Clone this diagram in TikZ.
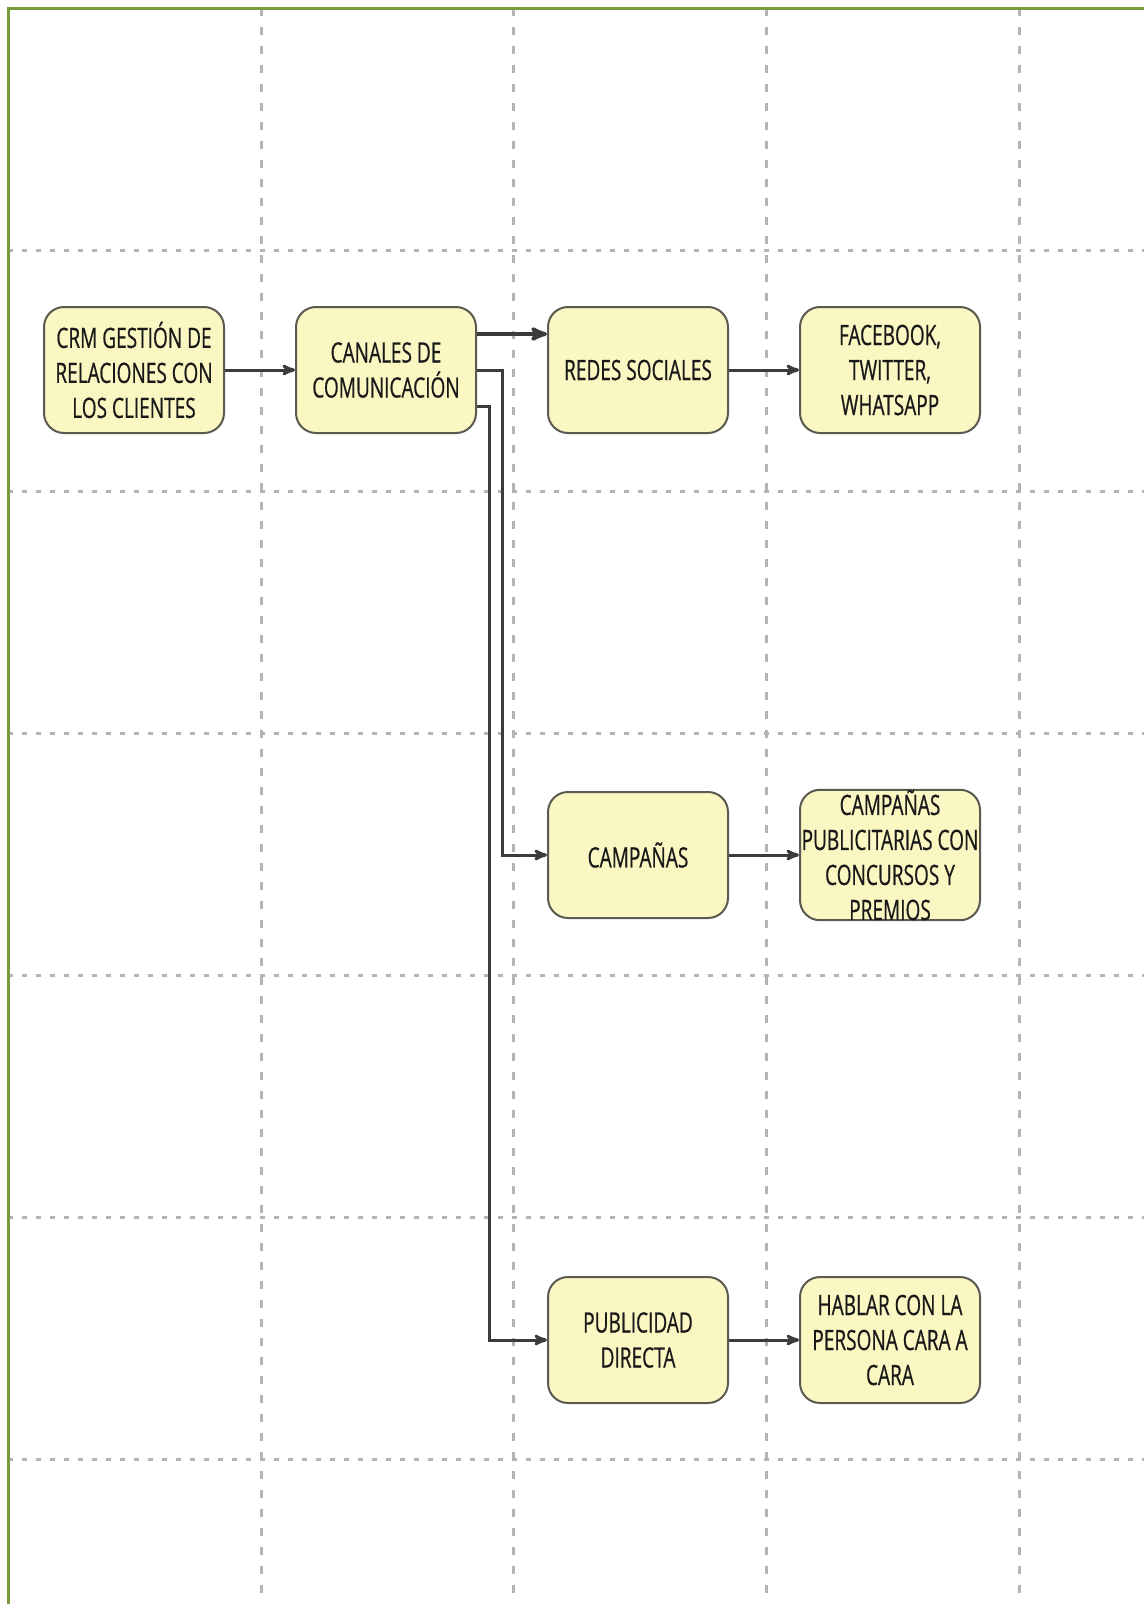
\documentclass[tikz,border=0pt]{standalone}
\usepackage{fontspec}
\newfontfamily\boxfont[FakeStretch=0.68,FakeBold=0.6]{Open Sans}
\usetikzlibrary{arrows,positioning}
\definecolor{boxfill}{RGB}{250,247,194}
\definecolor{boxline}{RGB}{90,90,80}
\definecolor{gridgray}{RGB}{180,180,180}
\definecolor{framegreen}{RGB}{120,154,60}
\definecolor{wire}{RGB}{60,60,60}

\begin{document}
\begin{tikzpicture}[x=1pt,y=-1pt,->,>=stealth',node distance=252pt,
                    main node/.style={draw=boxline,fill=boxfill,line width=2pt,rounded corners=20pt,
                      minimum width=180pt,minimum height=126pt,inner sep=0pt,align=center,
                      font=\boxfont\fontsize{28}{35}\selectfont,text=black!90}]

  \useasboundingbox (0,0) rectangle (1144,1604);

  % background grid
  \begin{scope}[-,gridgray,line width=3pt]
    \foreach \x in {261,513,766,1019}
      \draw[dash pattern=on 8pt off 11pt] (\x,8) -- (\x,1604);
    \foreach \y in {250,491,733,975,1217,1459}
      \draw[dash pattern=on 5pt off 9pt] (8,\y) -- (1144,\y);
  \end{scope}
  \draw[-,framegreen,line width=3pt] (8,1604) -- (8,8) -- (1144,8);

  \node[main node] (0) at (134,370) {CRM GESTIÓN DE\\RELACIONES CON\\LOS CLIENTES};
  \node[main node] (1) [right of=0] {CANALES DE\\COMUNICACIÓN};
  \node[main node] (2) [right of=1] {REDES SOCIALES};
  \node[main node] (3) [right of=2] {FACEBOOK,\\TWITTER,\\WHATSAPP};

  \node[main node] (4) [below=357pt of 2] {CAMPAÑAS};
  \node[main node] (5) [right of=4] {CAMPAÑAS\\PUBLICITARIAS CON\\CONCURSOS Y\\PREMIOS};

  \node[main node] (6) [below=357pt of 4] {PUBLICIDAD\\DIRECTA};
  \node[main node] (7) [right of=6] {HABLAR CON LA\\PERSONA CARA A\\CARA};

  \path[wire,line width=3pt]
    (0) edge (1)
    ([yshift=36pt]1.east) edge[line width=4pt] ([yshift=36pt]2.west)
    (2) edge (3)
    (4) edge (5)
    (6) edge (7);

  \draw[wire,line width=3pt] (1.east) -- ++(25,0) |- (4.west);
  \draw[wire,line width=3pt] ([yshift=-36pt]1.east) -- ++(12,0) |- (6.west);
\end{tikzpicture}
\end{document}
